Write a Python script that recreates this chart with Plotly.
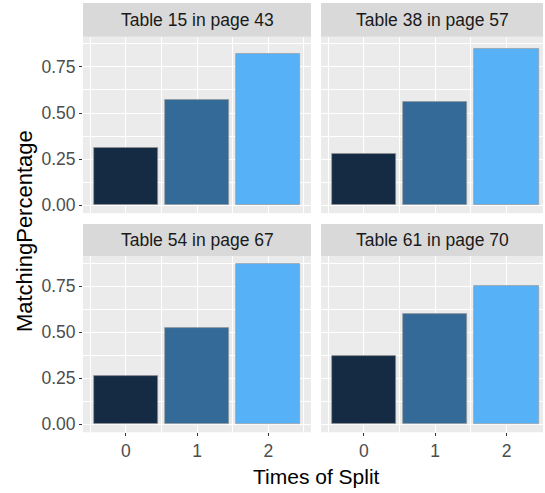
import plotly.graph_objects as go

# ---- data ----
panel_titles = ["Table 15 in page 43", "Table 38 in page 57",
                "Table 54 in page 67", "Table 61 in page 70"]
splits = [0, 1, 2]
table15 = [0.31, 0.57, 0.82]
table38 = [0.28, 0.56, 0.85]
table54 = [0.26, 0.52, 0.87]
table61 = [0.37, 0.60, 0.75]
y_ticks = [0.0, 0.25, 0.50, 0.75]
y_ticklabels = ["0.00", "0.25", "0.50", "0.75"]
x_label = "Times of Split"
y_label = "MatchingPercentage"

series = [table15, table38, table54, table61]
fill_colors = ["#152B43", "#336A98", "#56B1F7"]

W, H = 545, 493
FONT = "Liberation Sans, Arial, sans-serif"
TICK_SIZE = 17.5
XTITLE_SIZE = 21
YTITLE_SIZE = 22

def px_x(p):
    return p / W

def px_y(p):
    return 1 - p / H

# panel geometry (pixels)
cols = [(83, 311, [-0.6, 2.6]), (321, 543, [-0.6, 2.51])]
rows = [(37, 214, 3), (257, 434, 225)]

fig = go.Figure()
layout_axes = {}
shapes = []
annotations = []

for i, vals in enumerate(series):
    r, c = divmod(i, 2)
    x0, x1, xr = cols[c]
    y0, y1, s0 = rows[r]
    n = "" if i == 0 else str(i + 1)
    fig.add_trace(go.Bar(
        x=splits, y=vals, width=0.9,
        marker=dict(color=fill_colors, line=dict(color="rgba(150,150,150,0.9)", width=0.7)),
        xaxis="x" + n, yaxis="y" + n, showlegend=False, hoverinfo="x+y",
    ))
    layout_axes["xaxis" + n] = dict(
        domain=[px_x(x0), px_x(x1)], range=xr, anchor="y" + n,
        tickvals=splits, ticktext=[str(s) for s in splits],
        showticklabels=(r == 1), ticks="outside" if r == 1 else "",
        ticklen=3, tickwidth=1, tickcolor="#333333",
        tickfont=dict(family=FONT, size=TICK_SIZE, color="#4D4D4D"),
        showgrid=True, gridcolor="white", gridwidth=1.1,
        minor=dict(tickvals=[-0.5, 0.5, 1.5, 2.5], showgrid=True,
                   gridcolor="white", gridwidth=0.55, ticks=""),
        zeroline=False, showline=False, fixedrange=True,
    )
    layout_axes["yaxis" + n] = dict(
        domain=[px_y(y1), px_y(y0)], range=[-0.0435, 0.9135], anchor="x" + n,
        tickvals=y_ticks, ticktext=y_ticklabels,
        showticklabels=(c == 0), ticks="outside" if c == 0 else "",
        ticklen=3, tickwidth=1, tickcolor="#333333",
        tickfont=dict(family=FONT, size=TICK_SIZE, color="#4D4D4D"),
        showgrid=True, gridcolor="white", gridwidth=1.1,
        minor=dict(tickvals=[0.125, 0.375, 0.625, 0.875], showgrid=True,
                   gridcolor="white", gridwidth=0.55, ticks=""),
        zeroline=False, showline=False, fixedrange=True,
    )
    # strip
    shapes.append(dict(type="rect", xref="paper", yref="paper",
                       x0=px_x(x0), x1=px_x(x1), y0=px_y(y0), y1=px_y(s0),
                       fillcolor="#D9D9D9", line=dict(width=0), layer="below"))
    annotations.append(dict(text=panel_titles[i], xref="paper", yref="paper",
                            x=px_x((x0 + x1) / 2), y=px_y((y0 + s0) / 2),
                            xanchor="center", yanchor="middle", showarrow=False,
                            font=dict(family=FONT, size=TICK_SIZE, color="#1A1A1A")))

annotations.append(dict(text=x_label, xref="paper", yref="paper",
                        x=px_x(316), y=px_y(478), xanchor="center", yanchor="middle",
                        showarrow=False, font=dict(family=FONT, size=XTITLE_SIZE, color="black")))
annotations.append(dict(text=y_label, xref="paper", yref="paper",
                        x=px_x(24), y=px_y(232), xanchor="center", yanchor="middle",
                        textangle=-90, showarrow=False,
                        font=dict(family=FONT, size=YTITLE_SIZE, color="black")))

fig.update_layout(
    width=W, height=H, margin=dict(l=0, r=0, t=0, b=0),
    paper_bgcolor="white", plot_bgcolor="#EBEBEB",
    bargap=0, shapes=shapes, annotations=annotations,
    **layout_axes,
)

fig.write_html(
    "out.html",
    config={"displayModeBar": False},
    post_script="document.body.style.margin='0';document.body.style.padding='0';"
                "document.body.style.overflow='hidden';",
)
